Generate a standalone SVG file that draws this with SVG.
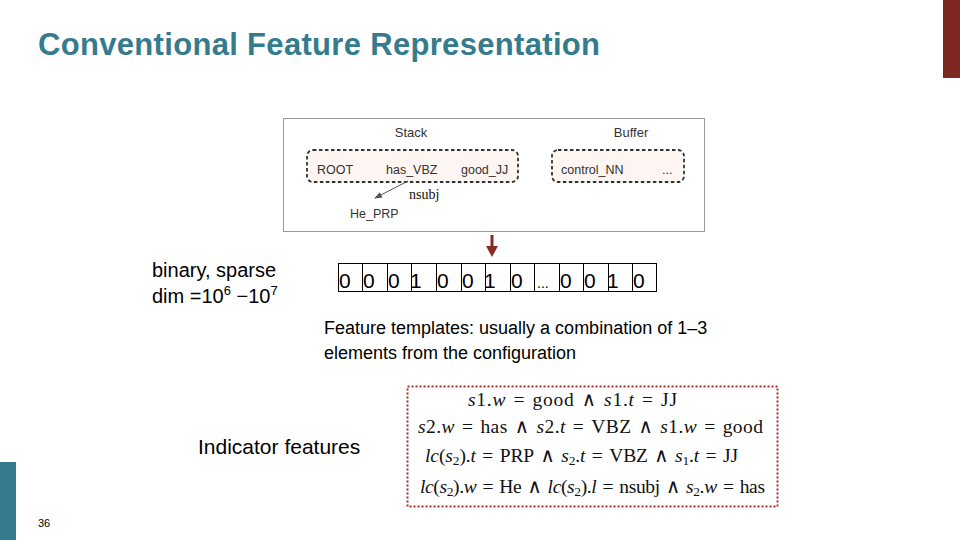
<svg xmlns="http://www.w3.org/2000/svg" width="960" height="540" viewBox="0 0 960 540">
<defs>
<marker id="ah" markerWidth="8" markerHeight="6" refX="7" refY="3" orient="auto" markerUnits="userSpaceOnUse"><path d="M0,0 L8,3 L0,6 z" fill="#555"/></marker>
<style>
.sans{font-family:"Liberation Sans",Arial,sans-serif;fill:#000}
.cm{font-family:"Liberation Sans","DejaVu Sans",sans-serif;font-size:12.5px;fill:#333}
.serif{font-family:"Liberation Serif","Times New Roman","DejaVu Serif",serif;fill:#111;font-size:19.5px}
.dash{fill:#FCF5F1;stroke:#333;stroke-width:1.8;stroke-dasharray:3.5 2.5}
.cell{fill:none;stroke:#000;stroke-width:1}
.bit{font-family:"Liberation Sans",Arial,sans-serif;font-size:21px;fill:#000}
.i{font-style:italic}
.sub{font-size:13.5px}
</style>
</defs>
<rect x="0" y="0" width="960" height="540" fill="#fff"/>
<rect x="943" y="0" width="17" height="78" fill="#7E2822"/>
<rect x="0" y="462" width="16" height="78" fill="#357B8E"/>
<text x="38" y="55" class="sans" font-size="31" font-weight="bold" style="fill:#357B8E" textLength="562" lengthAdjust="spacing">Conventional Feature Representation</text>

<g id="configuration">
<rect x="283.5" y="118.5" width="421" height="113" fill="#fff" stroke="#9a9a9a"/>
<g id="stack">
<text x="411" y="137" class="cm" text-anchor="middle" style="font-size:13px">Stack</text>
<rect x="307" y="150" width="211" height="32" rx="6" class="dash"/>
<text x="317" y="174" class="cm">ROOT</text>
<text x="386" y="174" class="cm">has_VBZ</text>
<text x="461" y="174" class="cm">good_JJ</text>
</g>
<g id="buffer">
<text x="631" y="137" class="cm" text-anchor="middle" style="font-size:13px">Buffer</text>
<rect x="552" y="150" width="132" height="32" rx="6" class="dash"/>
<text x="561" y="174" class="cm">control_NN</text>
<text x="662" y="174" class="cm">...</text>
</g>
<g id="he_prp">
<text x="350" y="218" class="cm">He_PRP</text>
</g>
</g>

<g id="connectors">
<line x1="408" y1="181" x2="375" y2="198" stroke="#555" stroke-width="1" marker-end="url(#ah)"/>
<text x="409" y="199" class="serif" style="font-size:14px">nsubj</text>
<path d="M490.5,235 H493.5 V246 H498 L492,257 L486,246 H490.5 Z" fill="#8B2A22"/>
</g>

<g id="bitvector">
<rect x="338.5" y="263.5" width="318" height="28" class="cell"/>
<path class="cell" d="M362.5,263.5V291.5M387.5,263.5V291.5M411.5,263.5V291.5M436.5,263.5V291.5M461.5,263.5V291.5M485.5,263.5V291.5M510.5,263.5V291.5M534.5,263.5V291.5M559.5,263.5V291.5M583.5,263.5V291.5M608.5,263.5V291.5M632.5,263.5V291.5"/>
<text class="bit" y="288"><tspan x="339">0</tspan><tspan x="363">0</tspan><tspan x="388">0</tspan><tspan x="410">1</tspan><tspan x="437">0</tspan><tspan x="462">0</tspan><tspan x="484">1</tspan><tspan x="511">0</tspan><tspan x="560">0</tspan><tspan x="584">0</tspan><tspan x="607">1</tspan><tspan x="633">0</tspan></text>
<text x="537" y="288" class="sans" font-size="14">...</text>
</g>

<g id="labels">
<text x="152" y="277" class="sans" font-size="20">binary, sparse</text>
<text x="152" y="303" class="sans" font-size="20">dim =10<tspan font-size="13" dy="-8">6</tspan><tspan dy="8"> −10</tspan><tspan font-size="13" dy="-8">7</tspan></text>
<text x="324" y="334" class="sans" font-size="18">Feature templates: usually a combination of 1–3</text>
<text x="324" y="359" class="sans" font-size="18">elements from the configuration</text>
<text x="198" y="454" class="sans" font-size="21">Indicator features</text>
<text x="38" y="527" class="sans" font-size="11">36</text>
</g>

<g id="indicator-features">
<rect x="407.5" y="386.5" width="370" height="120" fill="#fff" stroke="#A4302A" stroke-width="2" stroke-dasharray="2 2"/>
<text x="468" y="406" class="serif" textLength="209" lengthAdjust="spacing"><tspan class="i">s</tspan>1.<tspan class="i">w</tspan>&#8196;=&#8196;good&#8196;∧&#8196;<tspan class="i">s</tspan>1.<tspan class="i">t</tspan>&#8196;=&#8196;JJ</text>
<text x="418" y="433" class="serif" textLength="345" lengthAdjust="spacing"><tspan class="i">s</tspan>2.<tspan class="i">w</tspan>&#8196;=&#8196;has&#8196;∧&#8196;<tspan class="i">s</tspan>2.<tspan class="i">t</tspan>&#8196;=&#8196;VBZ&#8196;∧&#8196;<tspan class="i">s</tspan>1.<tspan class="i">w</tspan>&#8196;=&#8196;good</text>
<text x="425" y="462" class="serif" textLength="313" lengthAdjust="spacing"><tspan class="i">lc</tspan>(<tspan class="i">s</tspan><tspan class="sub" dy="3">2</tspan><tspan dy="-3">).</tspan><tspan class="i">t</tspan>&#8196;=&#8196;PRP&#8196;∧&#8196;<tspan class="i">s</tspan><tspan class="sub" dy="3">2</tspan><tspan dy="-3">.</tspan><tspan class="i">t</tspan>&#8196;=&#8196;VBZ&#8196;∧&#8196;<tspan class="i">s</tspan><tspan class="sub" dy="3">1</tspan><tspan dy="-3">.</tspan><tspan class="i">t</tspan>&#8196;=&#8196;JJ</text>
<text x="420" y="493" class="serif" textLength="345" lengthAdjust="spacing"><tspan class="i">lc</tspan>(<tspan class="i">s</tspan><tspan class="sub" dy="3">2</tspan><tspan dy="-3">).</tspan><tspan class="i">w</tspan>&#8196;=&#8196;He&#8196;∧&#8196;<tspan class="i">lc</tspan>(<tspan class="i">s</tspan><tspan class="sub" dy="3">2</tspan><tspan dy="-3">).</tspan><tspan class="i">l</tspan>&#8196;=&#8196;nsubj&#8196;∧&#8196;<tspan class="i">s</tspan><tspan class="sub" dy="3">2</tspan><tspan dy="-3">.</tspan><tspan class="i">w</tspan>&#8196;=&#8196;has</text>
</g>
</svg>
